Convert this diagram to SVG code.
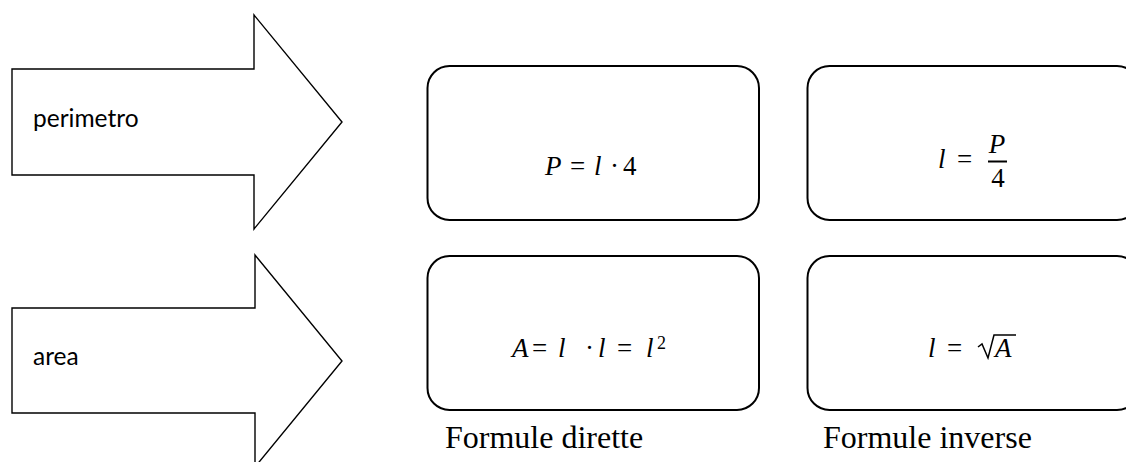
<svg xmlns="http://www.w3.org/2000/svg" width="1126" height="462" viewBox="0 0 1126 462">
<style>
.arrow{fill:#fff;stroke:#000;stroke-width:1.4;stroke-linejoin:miter}
.box{fill:#fff;stroke:#000;stroke-width:2}
.lbl{font-family:Lato,"Liberation Sans",sans-serif;font-size:24.5px;fill:#000}
.m{font-family:"Liberation Serif","DejaVu Serif",serif;font-size:27px;fill:#000}
.i{font-style:italic}
.cap{font-family:"Liberation Serif","Times New Roman",serif;font-size:32px;fill:#000}
</style>
<rect width="1126" height="462" fill="#fff"/>
<g id="arrow-perimetro">
<polygon class="arrow" points="12,69 254,69 254,15 342,122 254,229 254,175 12,175"/>
<text class="lbl" x="33" y="127">perimetro</text>
</g>
<g id="arrow-area">
<polygon class="arrow" points="12,308 255,308 255,255 342,361 255,467 255,413 12,413"/>
<text class="lbl" x="33" y="365">area</text>
</g>
<g id="box-perimetro-diretta">
<rect class="box" x="427.5" y="66" width="331.5" height="154" rx="22"/>
<text class="m" y="175"><tspan class="i" x="545">P</tspan><tspan x="570">=</tspan><tspan class="i" x="594">l</tspan><tspan x="610">·</tspan><tspan x="623">4</tspan></text>
</g>
<g id="box-perimetro-inversa">
<rect class="box" x="807.5" y="66" width="331.5" height="154" rx="22"/>
<text class="m" y="168"><tspan class="i" x="938">l</tspan><tspan x="957">=</tspan></text>
<text class="m i" x="997" y="153" text-anchor="middle">P</text>
<line x1="988" y1="161.5" x2="1007" y2="161.5" stroke="#000" stroke-width="2"/>
<text class="m" x="998" y="187" text-anchor="middle">4</text>
</g>
<g id="box-area-diretta">
<rect class="box" x="427.5" y="256" width="331.5" height="154" rx="22"/>
<text class="m" y="357"><tspan class="i" x="512">A</tspan><tspan x="532">=</tspan><tspan class="i" x="558">l</tspan><tspan x="585">·</tspan><tspan class="i" x="598">l</tspan><tspan x="617">=</tspan><tspan class="i" x="646">l</tspan><tspan x="657" dy="-8" font-size="18">2</tspan></text>
</g>
<g id="box-area-inversa">
<rect class="box" x="807.5" y="256" width="331.5" height="154" rx="22"/>
<text class="m" y="357"><tspan class="i" x="928">l</tspan><tspan x="947">=</tspan><tspan class="i" x="995">A</tspan></text>
<polyline points="978,347 982,344 988,358 994,335 1016,335" fill="none" stroke="#000" stroke-width="1.5"/>
</g>
<g id="captions">
<text class="cap" x="445" y="448">Formule dirette</text>
<text class="cap" x="823" y="448">Formule inverse</text>
</g>
<g id="connectors"/>
</svg>
